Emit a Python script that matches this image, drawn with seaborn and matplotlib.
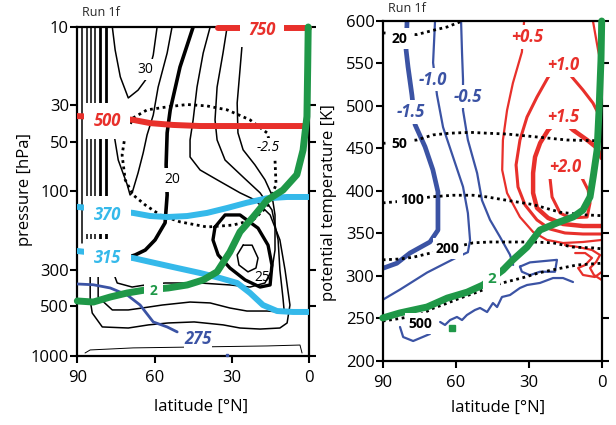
import numpy as np
import pandas as pd
import matplotlib
matplotlib.use("Agg")
import matplotlib.pyplot as plt
from matplotlib.ticker import NullLocator
import seaborn as sns

sns.set_theme(style="ticks")
plt.rcParams['font.family'] = ['Open Sans', 'DejaVu Sans']

RED = "#e8302b"
CYAN = "#35b9ea"
BLUE = "#3b53a4"
GREEN = "#1f9848"

# ---------------- LEFT PANEL DATA (latitude, pressure hPa) ----------------
# isentropes
th750_lat = [35.3, 0.0]
th750_p = [10.15, 10.15]
th500_lat = [90, 78, 68.3, 61.7, 52.8, 42.3, 29.5, 0]
th500_p = [34.8, 35.5, 36.7, 38.4, 39.4, 40.0, 40.0, 40.0]
th370_lat = [90, 78, 68.3, 61.7, 55.1, 47.3, 39.6, 31.8, 24.1, 16.3, 8.5, 0]
th370_p = [124, 130, 135, 141, 143, 141, 135, 126, 117, 110, 108, 108]
th315_lat = [90, 78, 68.3, 61.7, 52.8, 42.3, 34.5, 27.9, 22.9, 17.9, 12.4, 6.2, 0]
th315_p = [230, 242, 254, 268, 288, 313, 336, 360, 414, 490, 533, 540, 540]
th275_lat = [90, 83.8, 77.2, 70.6, 65.6, 60.5, 55.1, 51.2]
th275_p = [365, 369, 386, 426, 490, 621, 666, 714]
# 2 PVU tropopause
pv_l_lat = [90, 83.8, 77.2, 70.6, 63.6, 54.7, 47.3, 41.1, 35.7, 30.7, 26.8, 21.7,
            16.3, 10.1, 4.7, 2.3, 0.8, 0.5, 0.3]
pv_l_p = [463, 470, 438, 414, 397, 386, 370, 345, 308, 233, 176, 143,
          113, 98, 79, 56, 35, 17.5, 10]
# zonal wind contours (black)
pole_thin_lats = [88.0, 86.1, 84.6, 83.0]
pole_thick_lats = [81.1, 78.8]
pole_p = [10, 205]
c30_lat = [76.4, 75.3, 73.3, 70.2, 66.4, 62.9, 60.5, 59.0]
c30_p = [10, 13.8, 20.1, 27.0, 24.2, 20.4, 14.8, 10]
cD_lat = [53.2, 55.1, 58.6, 60.5, 62.9, 64.4, 66.4, 68.7, 69.5, 70.6, 74.1, 75.7, 76.1]
cD_p = [10, 14.4, 23.2, 34.3, 45.3, 58.2, 77.1, 101.9, 105, 91, 64.4, 45.3, 36.7]
cE_lat = [45.0, 50.1, 53.9, 55.1, 55.5, 55.1, 55.9, 59.8, 63.6, 67.5, 71.4]
cE_p = [10, 17.5, 31.9, 44.0, 68.9, 105, 155, 197, 227, 243, 254]
cF_lat = [38.4, 41.1, 43.5, 45.0, 46.2, 46.2, 42.3, 35.7, 26.8, 21.0, 15.1, 11.3, 9.3,
          7.4, 8.5, 11.3, 19.0, 26.8, 33.4, 44.6, 54.7, 62.3, 70.2, 80.3, 84.2, 85.0, 85.0]
cF_p = [10, 14.4, 23.2, 36.7, 48.6, 61.7, 74, 84.9, 101.9, 112.6, 138.9, 197, 300,
        490, 630, 676, 686, 676, 647, 621, 630, 647, 676, 666, 548, 457, 280]
cG_lat = [31.8, 33.4, 35.7, 36.5, 35.7, 32.6, 25.2, 19.0, 14.4, 12.0, 11.3, 10.1, 9.7,
          11.3, 16.3, 24.1, 30.7, 38.4, 46.2, 57.0, 64.8, 70.2, 76.4, 81.9, 81.9]
cG_p = [10, 14.4, 23.2, 36.7, 48.6, 64.4, 82.8, 101.9, 129.4, 197, 300, 445, 520,
        540, 533, 533, 511, 476, 470, 490, 511, 525, 525, 438, 280]
cH_lat = [26.0, 26.8, 27.9, 27.6, 25.6, 21.0, 17.1, 14.4, 13.2, 13.2, 14.4, 17.1, 22.9,
          30.7, 42.3, 55.9, 63.6, 68.7, 74.5, 76.1, 76.1]
cH_p = [12.9, 18.2, 29, 44, 55.8, 68.9, 84.9, 105, 138.9, 227, 300, 360, 381,
        370, 360, 360, 370, 381, 360, 308, 280]
ringA_lat = [36.5, 37.3, 35.3, 30.7, 24.8, 19.0, 15.1, 14.4, 15.9, 19.8, 26.8, 32.6, 36.5]
ringA_p = [164.4, 197, 243, 292, 345, 381, 370, 280, 212, 167, 138.9, 138.9, 164.4]
ringB_lat = [25.6, 27.9, 27.2, 23.7, 20.6, 19.8, 22.1, 25.6]
ringB_p = [212, 243, 280, 308, 292, 254, 212, 212]
cm25_lat = [71.4, 72.6, 71.4, 68.3, 63.6, 57.8, 50.1, 39.6, 29.5, 21.7, 16.3, 12.8, 13.2,
            16.3, 22.9, 31.8, 39.6, 47.3, 55.1, 62.9, 68.3, 71.4]
cm25_p = [45.3, 60, 84.9, 105, 120.8, 138.9, 153, 164.4, 160, 148.9, 124, 91, 64.4,
          44, 36.7, 31.9, 30.2, 29.6, 30.6, 31.9, 35.7, 45.3]
surf_lat = [87, 85, 68.3, 42.3, 16.3, 3.5, 2.7]
surf_p = [959, 919, 893, 881, 869, 858, 959]

# ---------------- RIGHT PANEL DATA (latitude, potential temperature K) ----------------
b15_lat = [80, 80.4, 79.6, 78, 76.7, 72.6, 69.4, 67.3, 67.3, 67.3, 70.6, 78.8, 84.2, 90]
b15_t = [600, 566, 546, 513, 478, 452, 425, 399, 374, 354, 340, 327, 315, 309]
b10_lat = [68.5, 69.3, 67.7, 65.2, 61.1, 57, 55, 54.1, 55, 59.5, 71.8, 82.9, 90]
b10_t = [600, 551, 513, 475, 440, 405, 374, 342, 328, 322, 304, 284, 272]
b05_lat = [57.8, 57.4, 57, 57, 55, 51.2, 49.2, 45.9, 41.8, 37.7, 36.4]
b05_t = [600, 562, 531, 495, 460, 421, 389, 366, 346, 325, 313]
bloop_lat = [33.6, 29.5, 18.4, 19.2, 25.4, 29.5, 32.8, 33.6]
bloop_t = [311, 316, 319, 305, 305, 301, 305, 311]
bwig_lat = [66.4, 64.4, 62.3, 59.5, 57.4, 55.4, 52.1, 50, 47.1, 44.7, 43, 41, 37.7,
            33.6, 30.7, 25.4, 20, 15.9, 11.8]
bwig_t = [245.9, 242.4, 248.2, 251.8, 248.2, 254.1, 260, 262.4, 257.6, 268.2, 263.5,
          275.3, 277.6, 285.9, 289.4, 291.8, 297.6, 297.6, 292.9]
bfrag_lat = [82.9, 81.6, 77.5, 72.6, 70.6]
bfrag_t = [240, 228.2, 223.5, 229.4, 231.8]
r05_lat = [31.9, 32.8, 36.5, 38.9, 40.6, 40.9, 38.9, 33.6, 28.2, 22.5, 15.9, 7.7, 0]
r05_t = [600, 563.5, 527, 495, 460, 424.7, 397.6, 369.4, 351.8, 342.4, 338.8, 340, 342.4]
r10_lat = [0, 1.5, 3.6, 7.7, 12.2, 17.1, 22, 26.6, 30.7, 33.6, 35.2, 34.4, 31.5, 26.6,
           21.3, 15.1, 7.7, 0]
r10_t = [477.6, 491.8, 503.5, 518.8, 534, 550.6, 534, 510.6, 487, 460, 430.6, 404.7,
         383.5, 365.9, 355.3, 350.6, 349.4, 349.4]
r15_lat = [0, 1.9, 6, 11.8, 17.1, 22, 25.3, 27.4, 28.2, 28.2, 26.6, 22, 15.9, 7.7, 0]
r15_t = [438.8, 450.6, 460, 471.8, 485.9, 471.8, 456.5, 440, 421.2, 397.6, 380, 368.2,
         361.2, 358.8, 358.8]
r20_lat = [9.7, 8.1, 5.6, 4.8, 6, 13, 17.1, 20.4, 21.3, 20.4]
r20_t = [427, 415.3, 401.2, 385.9, 369.4, 368.2, 374.1, 392.9, 416.5, 430.6]
rA_lat = [10.9, 6.8, 4, 6.8, 9.7, 7.7, 2.8, 0]
rA_t = [327, 327, 321.2, 312.9, 309.4, 301.2, 298.8, 304.7]
rB_lat = [15.1, 9.7, 4, 0.7, 2.3, 4.8, 3.2, 0]
rB_t = [336.5, 334.1, 330.6, 324.7, 316.5, 309.4, 301.2, 295.3]
rtop_lat = [3.6, 1.5, 0]
rtop_t = [600, 565.9, 545.9]
# isobars (dotted) on theta levels
i20_lat = [90, 76, 69.3, 63.5, 58.2]
i20_t = [586, 584, 589, 593, 599]
i50_lat = [90, 76, 69.3, 62.3, 54.1, 47.1, 38.9, 28.2, 14.3, 0]
i50_t = [456, 460, 466, 468, 469, 468, 467, 464, 460, 459]
i100_lat = [90, 78, 70.6, 61.1, 52.9, 47.1, 38.9, 28.2, 17.1, 7.7, 0]
i100_t = [386, 389, 393, 395, 395, 393, 389, 384, 375, 372, 371]
i200_lat = [90, 83, 77.6, 71.8, 63, 52.9, 45.9, 36.5, 28.2, 20, 11.8, 3.5, 0]
i200_t = [319, 320, 322, 326, 332, 339, 340, 340, 340, 339, 334, 333, 332]
i500_lat = [90, 83, 75, 69.3, 63.5, 58.2, 51.2, 45.9, 40.6, 32.4, 25.4, 17.1, 10.1, 0]
i500_t = [247, 250, 254, 262, 268, 274, 281, 287, 292, 298, 304, 309, 313, 315]
pv_r_lat = [90, 83, 71.8, 63.5, 55.3, 48.8, 40.6, 36.5, 30.7, 25.4, 18.4, 11.8, 7.7,
            4.8, 3.5, 1.9, 1.1, 0.3, 0]
pv_r_t = [250.6, 256.5, 263.5, 274, 281, 289.4, 307, 319, 334, 354, 362.4, 369.4,
          377.6, 393, 416.5, 448, 495, 554, 600]

lat_ticks = [90, 60, 30, 0]
p_ticks = [10, 30, 50, 100, 300, 500, 1000]
t_ticks = [200, 250, 300, 350, 400, 450, 500, 550, 600]

# ---------------- FIGURE ----------------
fig = plt.figure(figsize=(6.16, 4.25), dpi=100)
ax1 = fig.add_axes([0.1255, 0.1624, 0.3761, 0.7741])
ax2 = fig.add_axes([0.6213, 0.1506, 0.3555, 0.8000])
ax1.set_yscale('log')


def draw(ax, lat, y, color, lw, ls='-', z=2.0, clip=True):
    df = pd.DataFrame({'lat': lat, 'y': y})
    sns.lineplot(data=df, x='lat', y='y', sort=False, estimator=None, color=color,
                 linewidth=lw, linestyle=ls, ax=ax, zorder=z, legend=False,
                 clip_on=clip)


DOT = (0, (1.0, 1.3))

# left black contours
for la in pole_thin_lats:
    draw(ax1, [la, la], pole_p, 'black', 1.1)
for la in pole_thick_lats:
    draw(ax1, [la, la], pole_p, 'black', 2.0)
draw(ax1, c30_lat, c30_p, 'black', 1.1)
draw(ax1, cD_lat, cD_p, 'black', 1.1)
draw(ax1, cE_lat, cE_p, 'black', 2.6)
draw(ax1, cF_lat, cF_p, 'black', 1.1)
draw(ax1, cG_lat, cG_p, 'black', 1.1)
draw(ax1, cH_lat, cH_p, 'black', 1.1)
draw(ax1, ringA_lat, ringA_p, 'black', 2.4)
draw(ax1, ringB_lat, ringB_p, 'black', 1.1)
draw(ax1, cm25_lat, cm25_p, 'black', 2.0, ls=DOT)
draw(ax1, surf_lat, surf_p, 'black', 0.7)
# isentropes + tropopause
draw(ax1, th500_lat, th500_p, RED, 4.3, z=3)
draw(ax1, th750_lat, th750_p, RED, 4.3, z=3, clip=False)
draw(ax1, th370_lat, th370_p, CYAN, 4.3, z=3)
draw(ax1, th315_lat, th315_p, CYAN, 4.3, z=3)
draw(ax1, th275_lat, th275_p, BLUE, 2.0, z=3)
draw(ax1, pv_l_lat, pv_l_p, GREEN, 5.0, z=3.2, clip=False)

ax1.set_xlim(90, 0)
ax1.set_ylim(1000, 10)
ax1.set_xticks(lat_ticks)
ax1.set_xticklabels([str(v) for v in lat_ticks])
ax1.set_yticks(p_ticks)
ax1.set_yticklabels([str(v) for v in p_ticks])
ax1.yaxis.set_minor_locator(NullLocator())

bb = lambda pad: dict(facecolor='white', edgecolor='none', pad=pad)
lbl = dict(fontsize=12, fontweight='bold', style='italic', ha='center', va='center', zorder=6)
ax1.text(18.1, 10.4, "750", color=RED, bbox=bb(6), clip_on=False, **lbl)
ax1.text(78.4, 37.5, "500", color=RED, bbox=bb(6.5), **lbl)
ax1.text(78.4, 139, "370", color=CYAN, bbox=bb(7), **lbl)
ax1.text(78.4, 254, "315", color=CYAN, bbox=bb(7), **lbl)
ax1.text(43.1, 790, "275", color=BLUE, bbox=bb(0.5), **lbl)
ax1.text(60.5, 405, "2", color=GREEN, fontsize=10, fontweight='bold', ha='center',
         va='center', bbox=bb(4), zorder=6)
small = dict(fontsize=10, ha='center', va='center', zorder=6, color='black')
ax1.text(63.6, 18.2, "30", bbox=bb(2), **small)
ax1.text(53.2, 85, "20", bbox=bb(3), **small)
ax1.text(18.2, 335, "25", **small)
ax1.text(15.9, 54.4, "-2.5", style='italic', bbox=bb(2), **small)
ax1.plot([31.8], [990], marker='s', ms=2, color=BLUE, clip_on=False, zorder=3)

# right panel
draw(ax2, b15_lat, b15_t, BLUE, 3.4)
draw(ax2, b10_lat, b10_t, BLUE, 1.6)
draw(ax2, b05_lat, b05_t, BLUE, 1.6)
draw(ax2, bloop_lat, bloop_t, BLUE, 1.6)
draw(ax2, bwig_lat, bwig_t, BLUE, 1.6)
draw(ax2, bfrag_lat, bfrag_t, BLUE, 1.6)
draw(ax2, r05_lat, r05_t, RED, 1.6)
draw(ax2, r10_lat, r10_t, RED, 2.2)
draw(ax2, r15_lat, r15_t, RED, 3.2)
draw(ax2, r20_lat, r20_t, RED, 2.2)
draw(ax2, rA_lat, rA_t, RED, 1.6)
draw(ax2, rB_lat, rB_t, RED, 1.6)
draw(ax2, rtop_lat, rtop_t, RED, 1.6)
for la, tt in [(i20_lat, i20_t), (i50_lat, i50_t), (i100_lat, i100_t),
               (i200_lat, i200_t), (i500_lat, i500_t)]:
    draw(ax2, la, tt, 'black', 2.0, ls=DOT, z=2.5)
draw(ax2, pv_r_lat, pv_r_t, GREEN, 5.0, z=3.2, clip=False)
ax2.plot([61.5], [239], marker='s', ms=5, color=GREEN, zorder=3.2)

ax2.set_xlim(90, 0)
ax2.set_ylim(200, 600)
ax2.set_xticks(lat_ticks)
ax2.set_xticklabels([str(v) for v in lat_ticks])
ax2.set_yticks(t_ticks)
ax2.set_yticklabels([str(v) for v in t_ticks])

ax2.text(30.7, 581, "+0.5", color=RED, bbox=bb(2), **lbl)
ax2.text(15.9, 548, "+1.0", color=RED, bbox=bb(2), **lbl)
ax2.text(15.9, 487, "+1.5", color=RED, bbox=bb(2), **lbl)
ax2.text(15.1, 428, "+2.0", color=RED, bbox=bb(2), **lbl)
ax2.text(69.3, 531, "-1.0", color=BLUE, bbox=bb(2), **lbl)
ax2.text(55.0, 511, "-0.5", color=BLUE, bbox=bb(2), **lbl)
ax2.text(78.4, 493, "-1.5", color=BLUE, bbox=bb(2), **lbl)
bl = dict(fontsize=10, fontweight='bold', ha='center', va='center', zorder=6, color='black')
ax2.text(83, 579, "20", bbox=bb(2.5), **bl)
ax2.text(83, 455, "50", bbox=bb(2.5), **bl)
ax2.text(78, 389, "100", bbox=bb(2.5), **bl)
ax2.text(63.2, 332, "200", bbox=bb(2.5), **bl)
ax2.text(74.7, 244, "500", bbox=bb(2.5), **bl)
ax2.text(45.1, 297, "2", color=GREEN, fontsize=11, fontweight='bold', ha='center',
         va='center', bbox=bb(3), zorder=6)

for ax in (ax1, ax2):
    for s in ax.spines.values():
        s.set_color('black')
        s.set_linewidth(1.6)
        s.set_zorder(2.6)
    ax.tick_params(axis='both', which='major', direction='out', length=5, width=1.5,
                   labelsize=12, color='black', labelcolor='black')
    ax.tick_params(axis='y', right=True, left=True, pad=1)
    ax.tick_params(axis='x', pad=5)
    ax.set_xlabel("latitude [°N]", fontsize=12, color='black')

ax1.set_ylabel("pressure [hPa]", fontsize=12, color='black')
ax2.set_ylabel("potential temperature [K]", fontsize=12, color='black')
ax1.yaxis.set_label_coords(-0.19, 0.505)
ax2.yaxis.set_label_coords(-0.209, 0.465)
ax1.xaxis.set_label_coords(0.534, -0.13)
ax2.xaxis.set_label_coords(0.527, -0.113)

fig.text(82 / 616, 1 - 12 / 425, "Run 1f", fontsize=9, ha='left', va='center')
fig.text(388 / 616, 1 - 8 / 425, "Run 1f", fontsize=9, ha='left', va='center')

fig.savefig("out.png", dpi=100)
